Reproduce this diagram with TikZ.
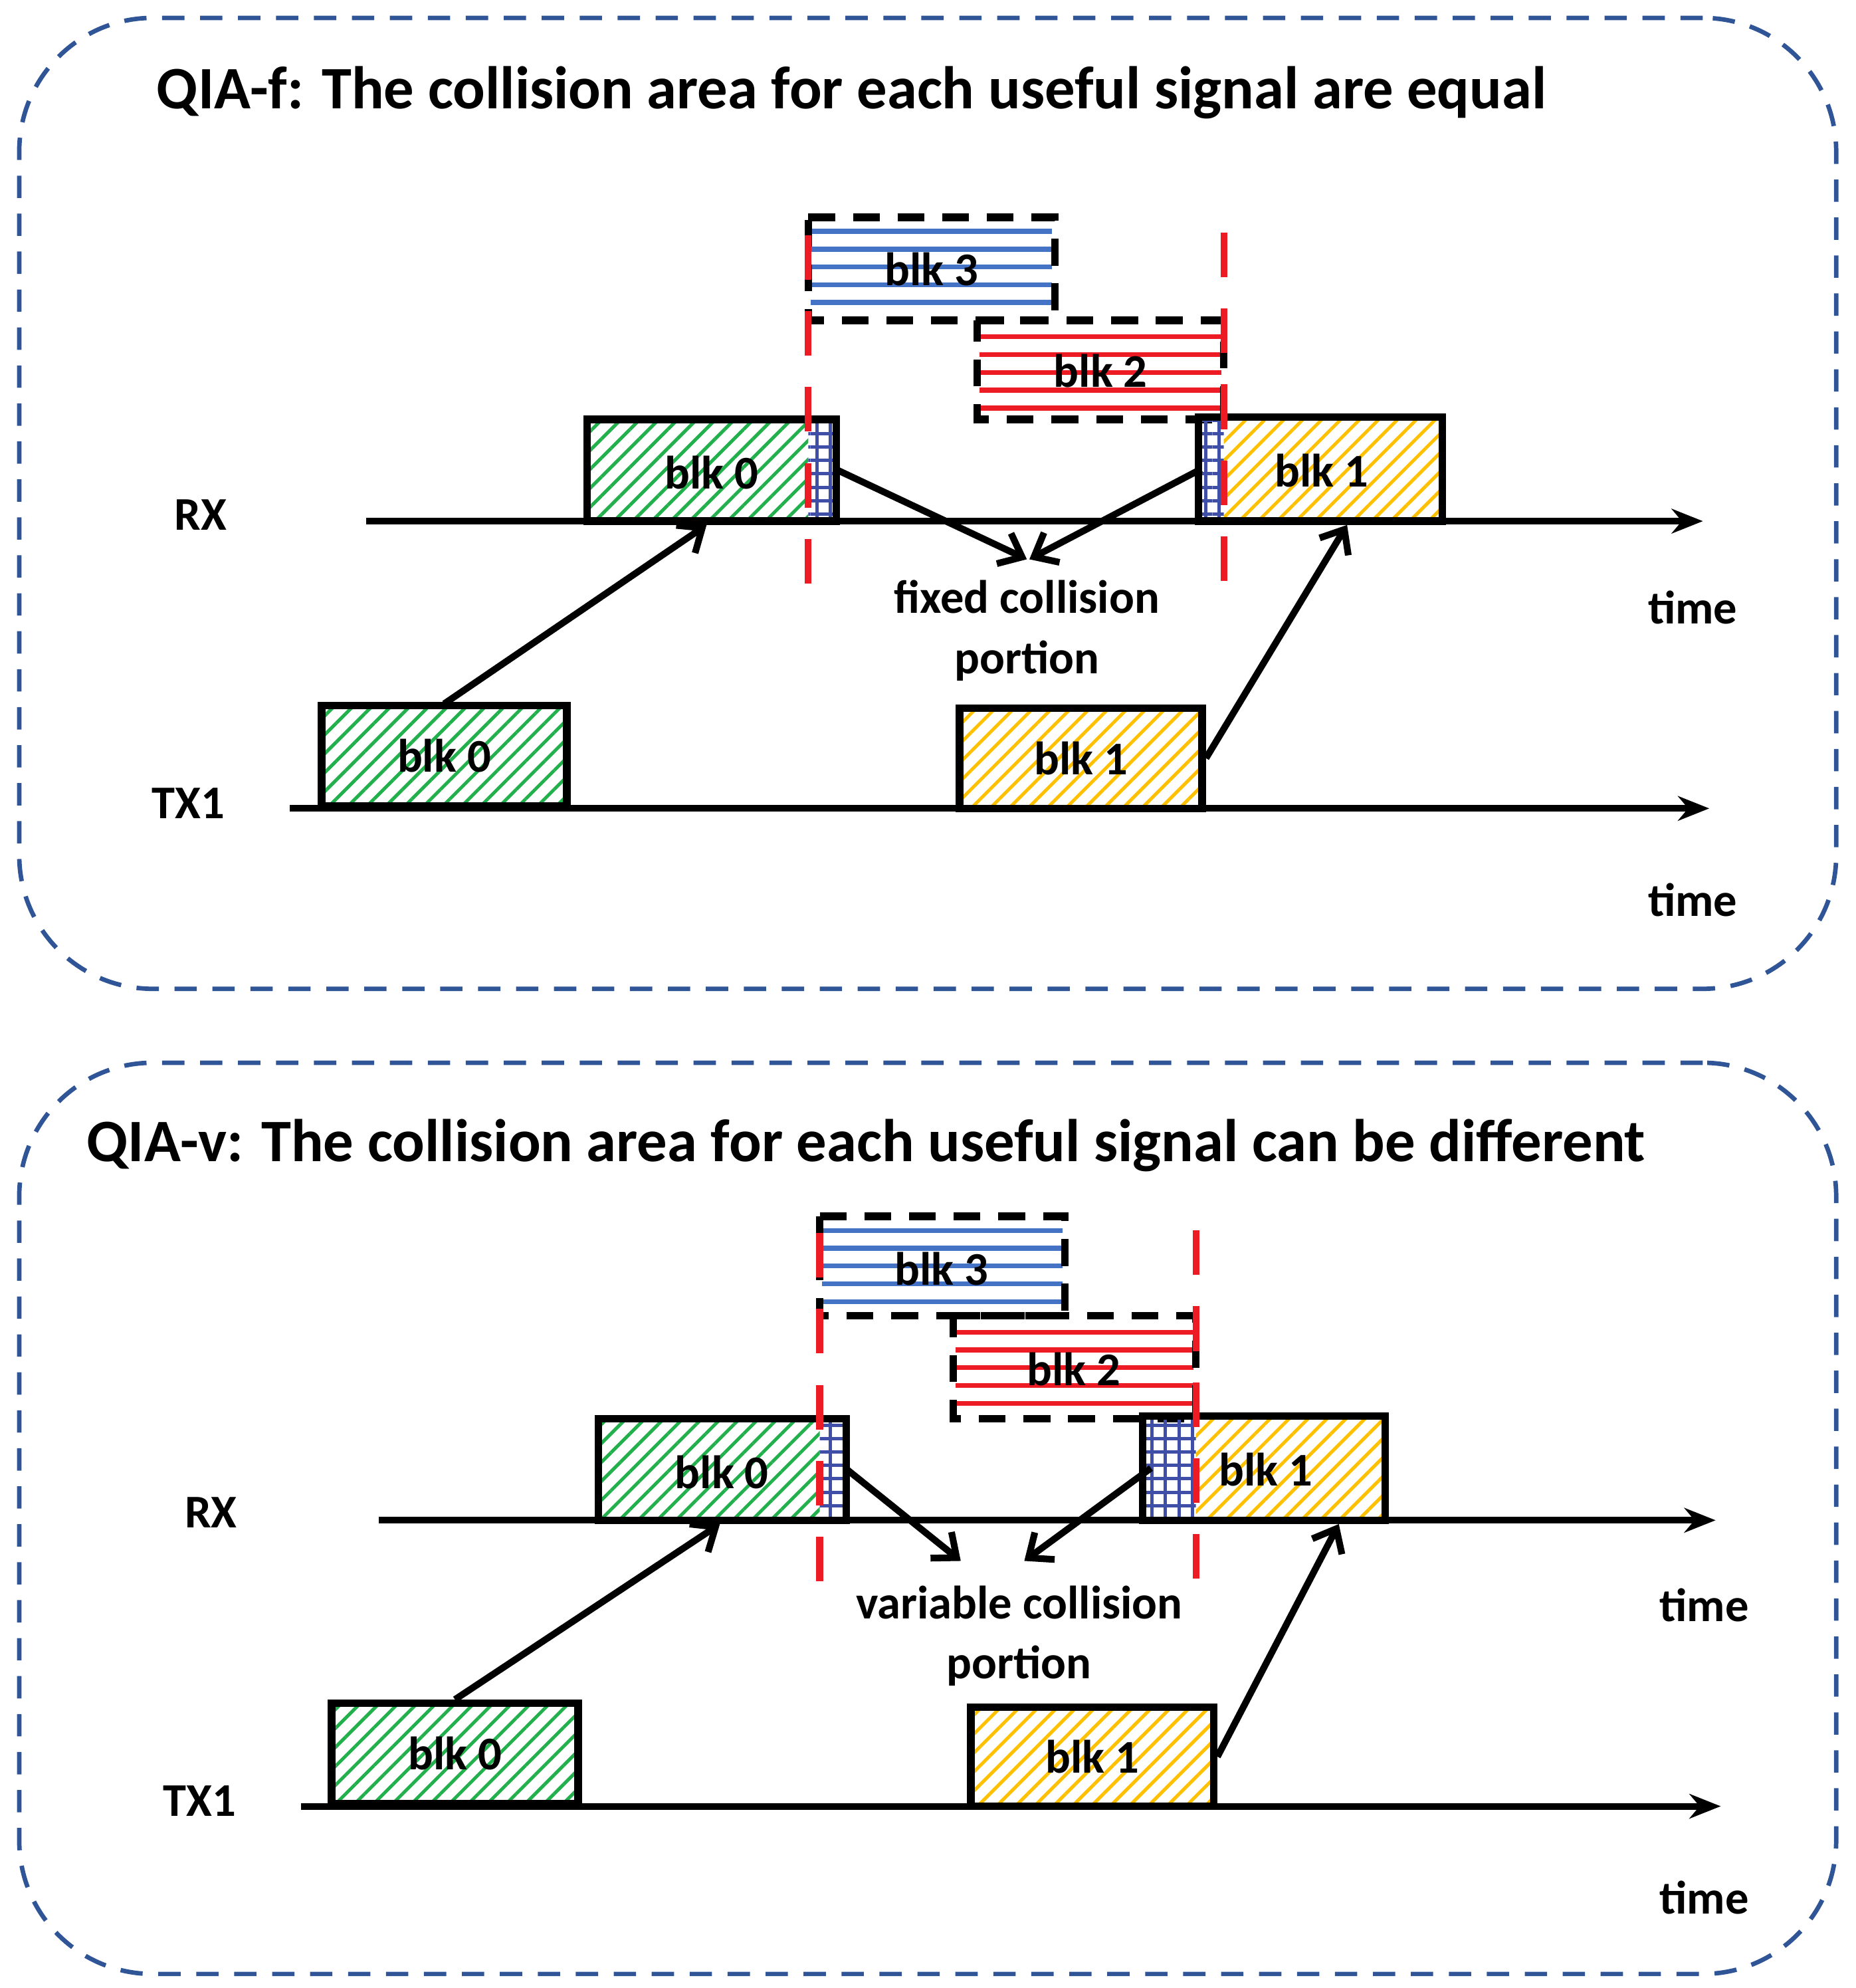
\documentclass[tikz,border=0pt]{standalone}
\usepackage{fontspec}
\setmainfont{Carlito}
\usetikzlibrary{patterns.meta,arrows.meta,calc}
\definecolor{frame}{HTML}{2F5597}
\definecolor{hgreen}{HTML}{22B04C}
\definecolor{hyellow}{HTML}{FFC000}
\definecolor{hblue}{HTML}{4472C4}
\definecolor{hgrid}{HTML}{3F4FA8}
\definecolor{hred}{HTML}{ED1C24}
\tikzset{
  panel/.style={draw=frame,line width=2pt,dash pattern=on 10pt off 7pt,rounded corners=2.1cm},
  title/.style={font=\bfseries\fontsize{27}{32}\selectfont,anchor=west,inner sep=0},
  lbl/.style={font=\bfseries\fontsize{21}{25}\selectfont,inner sep=0},
  axis/.style={line width=3pt,-{Stealth[length=14pt,width=11pt]}},
  conn/.style={line width=3pt,-{Straight Barb[length=9pt,width=15pt]}},
  box/.style={draw=black,line width=3.4pt,inner sep=0},
  green/.style={pattern={Lines[angle=45,distance=6pt,line width=1.5pt]},pattern color=hgreen},
  yellow/.style={pattern={Lines[angle=45,distance=6pt,line width=1.5pt]},pattern color=hyellow},
  grid/.style={pattern={Lines[angle=0,distance=6pt,line width=1.5pt]},pattern color=hgrid,
    postaction={pattern={Lines[angle=90,distance=6pt,line width=1.5pt]},pattern color=hgrid}},
  dbox/.style={draw=black,line width=3.4pt,dash pattern=on 12pt off 8pt},
  reddash/.style={draw=hred,line width=3pt,dash pattern=on 20pt off 14pt},
}
% rectangle node between (x1,y1) and (x2,y2)
\newcommand{\bx}[6]{\node[#6,minimum width={(#3-#1)*0.02cm},minimum height={(#4-#2)*0.02cm}] (#5) at ({(#1+#3)/2},{(#2+#4)/2}) {};}
\newcommand{\hlines}[6]{\foreach \yy in {#2,#3,...,#4} \draw[#6,line width=2.2pt] (#1,\yy) -- (#5,\yy);}
\begin{document}
\begin{tikzpicture}[x=0.02cm,y=-0.02cm]
\useasboundingbox (0,0) rectangle (1460,1564);
% ================= top panel
\node[panel,minimum width=28.6cm,minimum height=15.28cm,inner sep=0] (p1) at (730,396) {};
\node[title] (t1) at (123,73) {QIA-f: The collision area for each useful signal are equal};
% blk3 and blk2
\hlines{638}{182}{196}{238}{828}{hblue}
\node[lbl] (b3) at (733,212) {blk 3};
\draw[dbox] (636,171) -- (830,171) -- (830,252) -- (636,252) -- cycle;
\hlines{771}{265}{279}{321}{961}{hred}
\node[lbl] (b2) at (866,292) {blk 2};
\draw[dbox] (769,252) -- (963,252) -- (963,330) -- (769,330) -- cycle;
% axes
\coordinate (rxs) at (288,410); \coordinate (rxe) at (1340,410);
\coordinate (txs) at (228,636); \coordinate (txe) at (1345,636);
\draw[axis] (rxs) -- (rxe);
\draw[axis] (txs) -- (txe);
\node[lbl] (rx1) at (158,405) {RX};
\node[lbl] (tx1) at (148,632) {TX1};
\node[lbl] (tm1) at (1332,478) {time};
\node[lbl] (tm2) at (1332,708) {time};
% TX blocks
\bx{253}{555}{446}{634}{tb0}{box,green}
\node[lbl] at (tb0) {blk 0};
\bx{755}{557}{946}{636}{tb1}{box,yellow}
\node[lbl] at (tb1) {blk 1};
% RX blocks
\bx{462}{330}{636}{410}{rb0h}{green}
\bx{636}{330}{658}{410}{rg0}{grid}
\bx{462}{330}{658}{410}{rb0}{box}
\node[lbl] at (560,372) {blk 0};
\bx{963}{328}{1135}{410}{rb1h}{yellow}
\bx{943}{328}{963}{410}{rg1}{grid}
\bx{943}{328}{1135}{410}{rb1}{box}
\node[lbl] at (1040,370) {blk 1};
% red dashed
\draw[reddash] (636,185) -- (636,468);
\draw[reddash] (963,183) -- (963,458);
% connectors
\coordinate (c1) at (808,440);
\draw[conn] (tb0.north) -- ([xshift=-0.08cm]rb0.south);
\draw[conn] (tb1.east) -- ([xshift=0.42cm]rb1.south);
\draw[conn] (rg0.east) -- (c1);
\draw[conn] ([xshift=0.05cm]rg1.west) -- ([xshift=0.04cm]c1);
\node[lbl,align=center] (f1) at (808,496) {fixed collision\\[2pt]portion};
% ================= bottom panel
\node[panel,minimum width=28.6cm,minimum height=14.34cm,inner sep=0] (p2) at (730,1194.5) {};
\node[title] (t2) at (68,901) {QIA-v: The collision area for each useful signal can be different};
\hlines{647}{968}{982}{1024}{836}{hblue}
\node[lbl] (b3b) at (741,998) {blk 3};
\draw[dbox] (645,957) -- (838,957) -- (838,1035) -- (645,1035) -- cycle;
\hlines{752}{1048}{1062}{1104}{939}{hred}
\node[lbl] (b2b) at (845,1077) {blk 2};
\draw[dbox] (750,1035) -- (941,1035) -- (941,1116) -- (750,1116) -- cycle;
\coordinate (rxs2) at (298,1196); \coordinate (rxe2) at (1350,1196);
\coordinate (txs2) at (237,1421); \coordinate (txe2) at (1354,1421);
\draw[axis] (rxs2) -- (rxe2);
\draw[axis] (txs2) -- (txe2);
\node[lbl] (rx2) at (166,1190) {RX};
\node[lbl] (tx2) at (157,1417) {TX1};
\node[lbl] (tm3) at (1341,1263) {time};
\node[lbl] (tm4) at (1341,1493) {time};
\bx{261}{1340}{455}{1419}{tc0}{box,green}
\node[lbl] at (tc0) {blk 0};
\bx{764}{1343}{955}{1421}{tc1}{box,yellow}
\node[lbl] at (tc1) {blk 1};
\bx{471}{1116}{645}{1196}{rc0h}{green}
\bx{645}{1116}{666}{1196}{rh0}{grid}
\bx{471}{1116}{666}{1196}{rc0}{box}
\node[lbl] at (568,1158) {blk 0};
\bx{941}{1114}{1090}{1196}{rc1h}{yellow}
\bx{899}{1114}{941}{1196}{rh1}{grid}
\bx{899}{1114}{1090}{1196}{rc1}{box}
\node[lbl] at (996,1156) {blk 1};
\draw[reddash] (645,970) -- (645,1253);
\draw[reddash] (941,968) -- (941,1243);
\draw[conn] (tc0.north) -- ([xshift=-0.04cm]rc0.south);
\draw[conn] (tc1.east) -- ([xshift=1.18cm]rc1.south);
\draw[conn] (rh0.east) -- (756,1228);
\draw[conn] ([xshift=0.14cm]rh1.west) -- (806,1228);
\node[lbl,align=center] (f2) at (802,1287) {variable collision\\[2pt]portion};
\end{tikzpicture}
\end{document}
